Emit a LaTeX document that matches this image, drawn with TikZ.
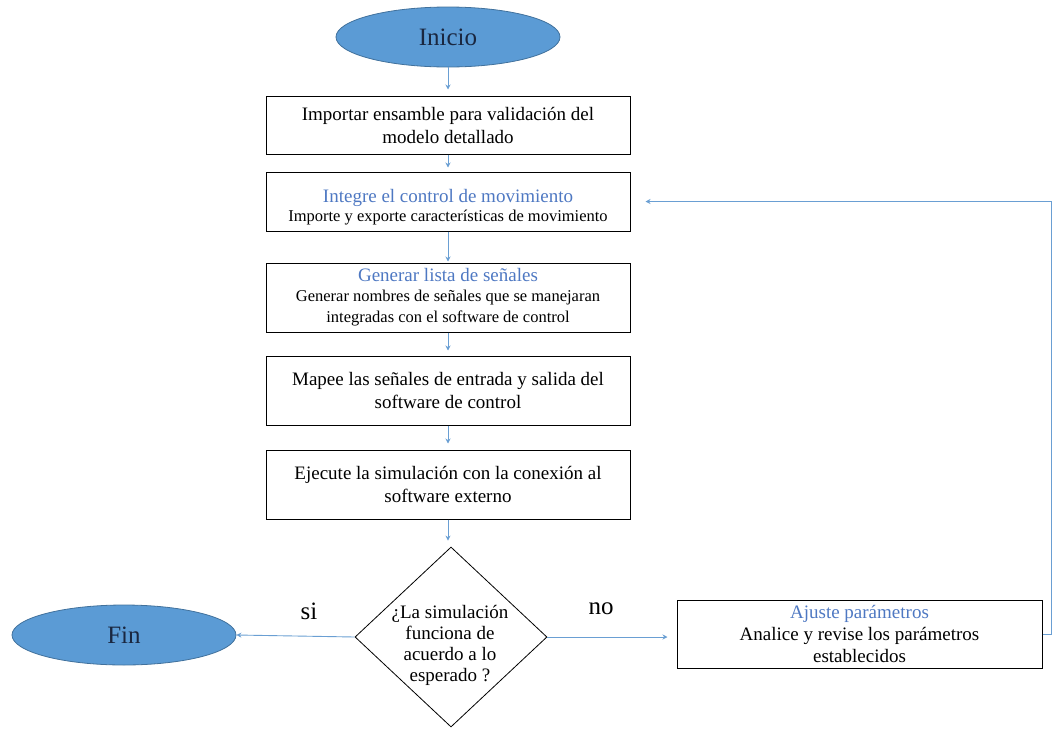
\documentclass[tikz,border=0pt]{standalone}
\usepackage{fontspec}
\setmainfont{Liberation Serif}
\usetikzlibrary{shapes.geometric,arrows.meta}
\definecolor{flowblue}{HTML}{5B9BD5}
\definecolor{flowedge}{HTML}{41719C}
\definecolor{linkblue}{HTML}{6A9FD3}
\definecolor{titleblue}{HTML}{4E78C2}
\definecolor{inktext}{HTML}{1A2740}
\newcommand{\subsize}{\fontsize{16.5}{21}\selectfont}

\begin{document}
\begin{tikzpicture}[x=1pt,y=-1pt,
  terminal/.style={ellipse, fill=flowblue, draw=flowedge, line width=0.8pt,
    minimum width=224pt, minimum height=60pt, inner sep=0pt,
    font=\fontsize{25}{28}\selectfont, text=inktext},
  stepbox/.style={rectangle, draw=black, line width=1pt, minimum width=364pt,
    inner sep=0pt, align=center, font=\fontsize{19}{23}\selectfont},
  boxtext/.style={inner sep=0pt, align=center, font=\fontsize{19}{23}\selectfont},
  decision/.style={diamond, draw=black, line width=0.8pt, minimum width=192pt,
    minimum height=180pt, inner sep=0pt},
  decisiontext/.style={inner sep=0pt, align=center,
    font=\fontsize{19}{21}\selectfont},
  answer/.style={font=\fontsize{25}{28}\selectfont},
  link/.style={draw=linkblue, line width=0.9pt, -{Stealth[length=5pt,width=5pt]}},
]
\useasboundingbox (0,0) rectangle (1053,729);

% start and end terminals
\node[terminal] (ini) at (448,37) {Inicio};
\node[terminal] (fin) at (124,635) {Fin};

% main sequence of steps
\node[stepbox, minimum height=58pt] (b1) at (448,125)
  {Importar ensamble para validación del\\modelo detallado};
\node[stepbox, minimum height=59pt] (b2) at (448,201.5) {};
\node[boxtext] (b2txt) at (448,207)
  {\textcolor{titleblue}{Integre el control de movimiento}\\[-4.5pt]
   \fontsize{16.5}{19}\selectfont Importe y exporte características de movimiento};
\node[stepbox, minimum height=69pt] (b3) at (448,297.5)
  {\textcolor{titleblue}{Generar lista de señales}\\[-3pt]
   \subsize Generar nombres de señales que se manejaran\\[-2pt]
   \subsize integradas con el software de control};
\node[stepbox, minimum height=69pt] (b4) at (448,390.5)
  {Mapee las señales de entrada y salida del\\software de control};
\node[stepbox, minimum height=69pt] (b5) at (448,484.5)
  {Ejecute la simulación con la conexión al\\software externo};

% decision and correction step
\node[decision] (dec) at (451,637) {};
\node[decisiontext] (dectxt) at (450,645)
  {¿La simulación\\funciona de\\acuerdo a lo\\esperado ?};
\node[stepbox, minimum width=365pt, minimum height=68pt,
      font=\fontsize{19}{22}\selectfont] (aj) at (859.5,634)
  {\textcolor{titleblue}{Ajuste parámetros}\\
   Analice y revise los parámetros\\establecidos};

% branch labels
\node[answer] (si) at (309,611) {si};
\node[answer] (no) at (601,609) {no};

% connectors
\draw[link, shorten >=6pt] (ini) -- (b1);
\draw[link, shorten >=4pt] (b1) -- (b2);
\draw[link, shorten >=1pt] (b2) -- (b3);
\draw[link, shorten >=5pt] (b3) -- (b4);
\draw[link, shorten >=6pt] (b4) -- (b5);
\draw[link, shorten >=6pt] (b5) -- (b5 |- dec.north);
\draw[link] (dec.west) -- (fin.east);
\draw[link, shorten >=9pt] (dec.east) -- (dec.east -| aj.west);

% return loop back to the motion-control step
\coordinate (loopx) at (1051,0);
\draw[link, shorten >=15pt] (aj.east) -- (aj.east -| loopx) |- (b2.east);
\end{tikzpicture}
\end{document}
